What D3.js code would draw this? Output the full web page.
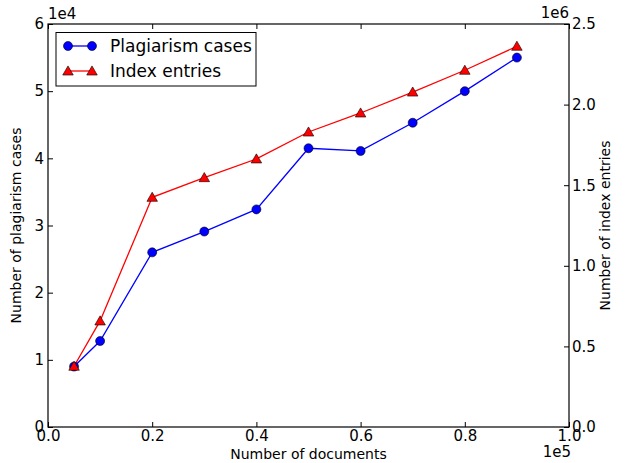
<!DOCTYPE html>
<html>
<head>
<meta charset="utf-8">
<script src="https://cdn.jsdelivr.net/npm/d3@7"></script>
<style>
  body { margin: 0; background: #fff; }
  text { font-family: "DejaVu Sans", sans-serif; fill: #000; }
</style>
</head>
<body>
<div class="container"></div>
<script>
// data
var documents = [5000, 10000, 20000, 30000, 40000, 50000, 60000, 70000, 80000, 90000];
var plagiarismCases = [9000, 12800, 26000, 29100, 32400, 41500, 41100, 45300, 50000, 55000];
var indexEntries = [377000, 658000, 1425000, 1547000, 1663000, 1830000, 1948000, 2078000, 2213000, 2362000];

var xTicks = [0, 20000, 40000, 60000, 80000, 100000];
var xTickLabels = ["0.0", "0.2", "0.4", "0.6", "0.8", "1.0"];
var leftTicks = [0, 10000, 20000, 30000, 40000, 50000, 60000];
var leftTickLabels = ["0", "1", "2", "3", "4", "5", "6"];
var rightTicks = [0, 500000, 1000000, 1500000, 2000000, 2500000];
var rightTickLabels = ["0.0", "0.5", "1.0", "1.5", "2.0", "2.5"];

var opts = {width: 627, height: 463, left: 48, right: 569, top: 24, bottom: 427};

var svg = d3.select(".container")
    .append("svg")
    .attr("width", opts.width)
    .attr("height", opts.height);

var x = d3.scaleLinear().domain([0, 100000]).range([opts.left, opts.right]);
var yLeft = d3.scaleLinear().domain([0, 60000]).range([opts.bottom, opts.top]);
var yRight = d3.scaleLinear().domain([0, 2500000]).range([opts.bottom, opts.top]);

var fmt = function(labels, ticks) {
  return function(d) { return labels[ticks.indexOf(d)]; };
};

// axes, ticks pointing inwards like old matplotlib
var bottomAxis = d3.axisBottom(x).tickValues(xTicks).tickFormat(fmt(xTickLabels, xTicks))
    .tickSizeInner(-5).tickSizeOuter(0).tickPadding(3);
var topAxis = d3.axisTop(x).tickValues(xTicks).tickFormat("").tickSizeInner(-5).tickSizeOuter(0);
var leftAxis = d3.axisLeft(yLeft).tickValues(leftTicks).tickFormat(fmt(leftTickLabels, leftTicks))
    .tickSizeInner(-5).tickSizeOuter(0).tickPadding(4);
var rightAxis = d3.axisRight(yRight).tickValues(rightTicks).tickFormat(fmt(rightTickLabels, rightTicks))
    .tickSizeInner(-5).tickSizeOuter(0).tickPadding(3);

var styleAxis = function(g) {
  g.select(".domain").remove();
  g.selectAll(".tick line").attr("stroke", "#000").attr("stroke-width", 1);
  g.selectAll(".tick text").style("font-size", "15px").attr("fill", "#000");
};

svg.append("g").attr("transform", "translate(0," + opts.bottom + ")").call(bottomAxis).call(styleAxis);
svg.append("g").attr("transform", "translate(0," + opts.top + ")").call(topAxis).call(styleAxis);
svg.append("g").attr("transform", "translate(" + opts.left + ",0)").call(leftAxis).call(styleAxis);
svg.append("g").attr("transform", "translate(" + opts.right + ",0)").call(rightAxis).call(styleAxis);

// frame
svg.append("rect")
    .attr("x", opts.left).attr("y", opts.top)
    .attr("width", opts.right - opts.left).attr("height", opts.bottom - opts.top)
    .attr("fill", "none").attr("stroke", "#000").attr("stroke-width", 1.2);

// lines
var blueLine = d3.line().x(function(d, i) { return x(documents[i]); }).y(function(d) { return yLeft(d); });
var redLine = d3.line().x(function(d, i) { return x(documents[i]); }).y(function(d) { return yRight(d); });

svg.append("path").datum(plagiarismCases)
    .attr("d", blueLine).attr("fill", "none").attr("stroke", "blue").attr("stroke-width", 1.3);
svg.append("path").datum(indexEntries)
    .attr("d", redLine).attr("fill", "none").attr("stroke", "red").attr("stroke-width", 1.3);

var tri = d3.symbol().type(d3.symbolTriangle).size(48);

svg.selectAll("circle.plag").data(plagiarismCases).enter().append("circle")
    .attr("class", "plag")
    .attr("cx", function(d, i) { return x(documents[i]); })
    .attr("cy", function(d) { return yLeft(d); })
    .attr("r", 4.5)
    .attr("fill", "blue").attr("stroke", "#000").attr("stroke-width", 0.6);

svg.selectAll("path.idx").data(indexEntries).enter().append("path")
    .attr("class", "idx")
    .attr("d", tri)
    .attr("transform", function(d, i) { return "translate(" + x(documents[i]) + "," + (yRight(d) + 1) + ")"; })
    .attr("fill", "red").attr("stroke", "#000").attr("stroke-width", 0.6);

// offset texts
svg.append("text").attr("x", opts.left).attr("y", opts.top - 5).style("font-size", "15px").text("1e4");
svg.append("text").attr("x", opts.right).attr("y", opts.top - 6).attr("text-anchor", "end").style("font-size", "15px").text("1e6");
svg.append("text").attr("x", opts.right + 2).attr("y", 457).attr("text-anchor", "end").style("font-size", "15px").text("1e5");

// axis titles
svg.append("text").attr("x", (opts.left + opts.right) / 2).attr("y", 459)
    .attr("text-anchor", "middle").style("font-size", "14px").text("Number of documents");
svg.append("text").attr("transform", "translate(21," + ((opts.top + opts.bottom) / 2) + ") rotate(-90)")
    .attr("text-anchor", "middle").style("font-size", "14px").text("Number of plagiarism cases");
svg.append("text").attr("transform", "translate(610," + ((opts.top + opts.bottom) / 2) + ") rotate(-90)")
    .attr("text-anchor", "middle").style("font-size", "14px").text("Number of index entries");

// legend
var legend = svg.append("g");
legend.append("rect").attr("x", 56).attr("y", 32.5).attr("width", 200).attr("height", 53.5)
    .attr("fill", "#fff").attr("stroke", "#000").attr("stroke-width", 1);
var legendItems = [
  {label: "Plagiarism cases", color: "blue", y: 46, shape: "circle"},
  {label: "Index entries", color: "red", y: 71, shape: "tri"}
];
legendItems.forEach(function(it) {
  legend.append("line").attr("x1", 68).attr("x2", 92).attr("y1", it.y).attr("y2", it.y)
      .attr("stroke", it.color).attr("stroke-width", 1.3);
  [68, 92].forEach(function(cx) {
    if (it.shape === "circle") {
      legend.append("circle").attr("cx", cx).attr("cy", it.y).attr("r", 4.5)
          .attr("fill", it.color).attr("stroke", "#000").attr("stroke-width", 0.6);
    } else {
      legend.append("path").attr("d", tri).attr("transform", "translate(" + cx + "," + (it.y + 1) + ")")
          .attr("fill", it.color).attr("stroke", "#000").attr("stroke-width", 0.6);
    }
  });
  legend.append("text").attr("x", 110).attr("y", it.y + 6).style("font-size", "17px").text(it.label);
});
</script>
</body>
</html>
